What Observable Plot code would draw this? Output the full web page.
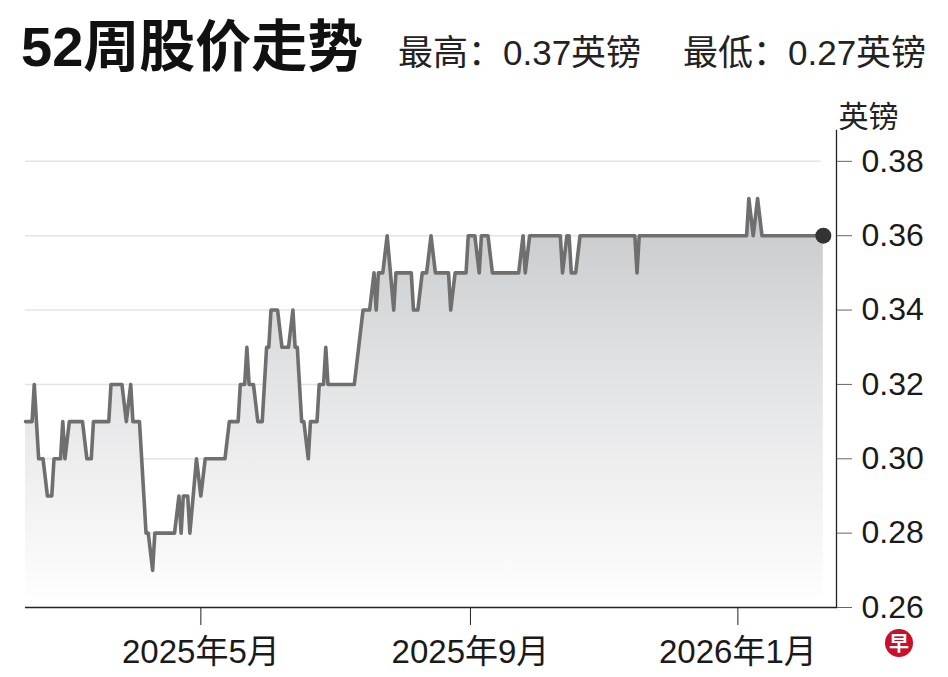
<!DOCTYPE html>
<html>
<head>
<meta charset="utf-8">
<script src="https://cdn.jsdelivr.net/npm/d3@7"></script>
<script src="https://cdn.jsdelivr.net/npm/@observablehq/plot@0.6"></script>
<style>
  html, body { margin: 0; padding: 0; background: #fff; }
  #wrap { position: relative; width: 948px; height: 677px; overflow: hidden; font-family: "Liberation Sans", Arial, "Noto Sans CJK SC", sans-serif; color: #1a1a1a; }
  #title { position: absolute; left: 21px; top: 19px; font-size: 56px; font-weight: 700; line-height: 1; font-family: "Liberation Sans", Arial, "Noto Sans CJK SC", sans-serif; color: #111; }
  .sub { position: absolute; top: 35px; font-size: 35px; line-height: 1; color: #222; }
  #chart { position: absolute; left: 0; top: 85px; }
  #logo { position: absolute; left: 885px; top: 629px; width: 28px; height: 28px; border-radius: 50%; background: #c8102e; color: #fff; font-size: 20px; font-weight: 700; line-height: 28px; text-align: center; font-family: "Noto Sans CJK SC", sans-serif; }
</style>
</head>
<body>
<div id="wrap">
  <div id="title">52周股价走势</div>
  <div class="sub" style="left:398px">最高：0.37英镑</div>
  <div class="sub" style="left:683px">最低：0.27英镑</div>
  <div id="chart"></div>
  <div id="logo">早</div>
</div>
<script>
// ---- data ----
const dates = [
  "2025-02-10","2025-02-13","2025-02-14","2025-02-16","2025-02-18","2025-02-20","2025-02-22","2025-02-23",
  "2025-02-26","2025-02-27","2025-02-28","2025-03-02","2025-03-08","2025-03-10","2025-03-12","2025-03-13",
  "2025-03-20","2025-03-21","2025-03-26","2025-03-28","2025-03-30","2025-03-31","2025-04-03","2025-04-06",
  "2025-04-07","2025-04-09","2025-04-10","2025-04-19","2025-04-21","2025-04-22","2025-04-23","2025-04-25",
  "2025-04-26","2025-04-29","2025-05-01","2025-05-03","2025-05-12","2025-05-14","2025-05-18","2025-05-19",
  "2025-05-21","2025-05-22","2025-05-23","2025-05-25","2025-05-27","2025-05-29","2025-05-31","2025-06-01",
  "2025-06-02","2025-06-05","2025-06-07","2025-06-10","2025-06-12","2025-06-13","2025-06-14","2025-06-16",
  "2025-06-17","2025-06-19","2025-06-20","2025-06-23","2025-06-24","2025-06-26","2025-06-27","2025-06-28",
  "2025-07-10","2025-07-12","2025-07-14","2025-07-17","2025-07-19","2025-07-20","2025-07-21","2025-07-23",
  "2025-07-25","2025-07-28","2025-07-29","2025-08-05","2025-08-06","2025-08-08","2025-08-10","2025-08-12",
  "2025-08-14","2025-08-16","2025-08-22","2025-08-23","2025-08-25","2025-08-30","2025-08-31","2025-09-03",
  "2025-09-05","2025-09-06","2025-09-09","2025-09-11","2025-09-23","2025-09-25","2025-09-26","2025-09-28",
  "2025-10-12","2025-10-13","2025-10-15","2025-10-16","2025-10-17","2025-10-19","2025-10-21","2025-11-15",
  "2025-11-16","2025-11-17","2026-01-05","2026-01-06","2026-01-08","2026-01-10","2026-01-12","2026-02-09"
];
const prices = [
  0.31,0.31,0.32,0.30,0.30,0.29,0.29,0.30,
  0.30,0.31,0.30,0.31,0.31,0.30,0.30,0.31,
  0.31,0.32,0.32,0.31,0.32,0.31,0.31,0.28,
  0.28,0.27,0.28,0.28,0.29,0.28,0.29,0.29,
  0.28,0.30,0.29,0.30,0.30,0.31,0.31,0.32,
  0.32,0.33,0.32,0.32,0.31,0.31,0.33,0.33,
  0.34,0.34,0.33,0.33,0.34,0.33,0.33,0.31,
  0.31,0.30,0.31,0.31,0.32,0.32,0.33,0.32,
  0.32,0.33,0.34,0.34,0.35,0.34,0.35,0.35,
  0.36,0.34,0.35,0.35,0.34,0.34,0.35,0.35,
  0.36,0.35,0.35,0.34,0.35,0.35,0.36,0.36,
  0.35,0.36,0.36,0.35,0.35,0.36,0.35,0.36,
  0.36,0.35,0.36,0.36,0.35,0.35,0.36,0.36,
  0.35,0.36,0.36,0.37,0.36,0.37,0.36,0.36
];
const yTicks = [0.26, 0.28, 0.30, 0.32, 0.34, 0.36, 0.38];
const xTickDates = ["2025-05-01", "2025-09-01", "2026-01-01"];
const xTickLabels = ["2025年5月", "2025年9月", "2026年1月"];
const xDomain = ["2025-02-10", "2026-02-15"];
const yDomain = [0.26, 0.3883];
const unitLabel = "英镑";

// ---- build ----
const data = dates.map((d, i) => ({date: new Date(d), price: prices[i]}));
const last = [data[data.length - 1]];
const xTicks = xTickDates.map(d => new Date(d));
const labelOf = new Map(xTicks.map((d, i) => [+d, xTickLabels[i]]));
const x0 = new Date(xDomain[0]), x1 = new Date(xDomain[1]);
const gridEnd = new Date("2026-02-08");

const plot = Plot.plot({
  width: 948,
  height: 592,
  marginLeft: 25,
  marginRight: 112,
  marginTop: 45,
  marginBottom: 70,
  style: {fontFamily: '"Liberation Sans", Arial, "Noto Sans CJK SC", sans-serif', color: "#1a1a1a", background: "transparent"},
  x: {type: "utc", domain: [x0, x1]},
  y: {domain: yDomain},
  marks: [
    Plot.ruleY(yTicks.slice(1), {x1: () => x0, x2: () => gridEnd, stroke: "#e4e4e4", strokeWidth: 1.5}),
    Plot.areaY(data, {x: "date", y1: 0.26, y2: "price", fill: "url(#areaGrad)"}),
    Plot.lineY(data, {x: "date", y: "price", stroke: "#6f6f6f", strokeWidth: 3.6, strokeLinejoin: "round"}),
    Plot.dot(last, {x: "date", y: "price", r: 8, fill: "#333", stroke: "none"}),
    Plot.ruleY([0.26], {stroke: "#222", strokeWidth: 1.3}),
    Plot.frame({anchor: "right", stroke: "#222", strokeWidth: 1.3}),
    Plot.axisY({anchor: "right", ticks: yTicks, tickSize: 15, tickPadding: 10, fontSize: 32, tickFormat: d3.format(".2f"), stroke: "#666", label: null}),
    Plot.axisX({anchor: "bottom", ticks: xTicks, tickSize: 18, tickPadding: 14, fontSize: 33, tickFormat: d => labelOf.get(+d), stroke: "#222", label: null}),
    Plot.text([unitLabel], {frameAnchor: "top-right", text: d => d, dx: 2, dy: -25, textAnchor: "start", fontSize: 30, fill: "#222"})
  ]
});

// gradient definition for the area
const ns = "http://www.w3.org/2000/svg";
const defs = document.createElementNS(ns, "defs");
const grad = document.createElementNS(ns, "linearGradient");
grad.setAttribute("id", "areaGrad");
grad.setAttribute("x1", "0"); grad.setAttribute("y1", "0");
grad.setAttribute("x2", "0"); grad.setAttribute("y2", "1");
[[0, "#c4c6c8"], [0.12, "#cdcfd1"], [0.45, "#e3e4e5"], [0.8, "#f5f5f5"], [1, "#ffffff"]].forEach(([o, c]) => {
  const s = document.createElementNS(ns, "stop");
  s.setAttribute("offset", o);
  s.setAttribute("stop-color", c);
  grad.appendChild(s);
});
defs.appendChild(grad);
plot.insertBefore(defs, plot.firstChild);

document.getElementById("chart").appendChild(plot);
</script>
</body>
</html>
